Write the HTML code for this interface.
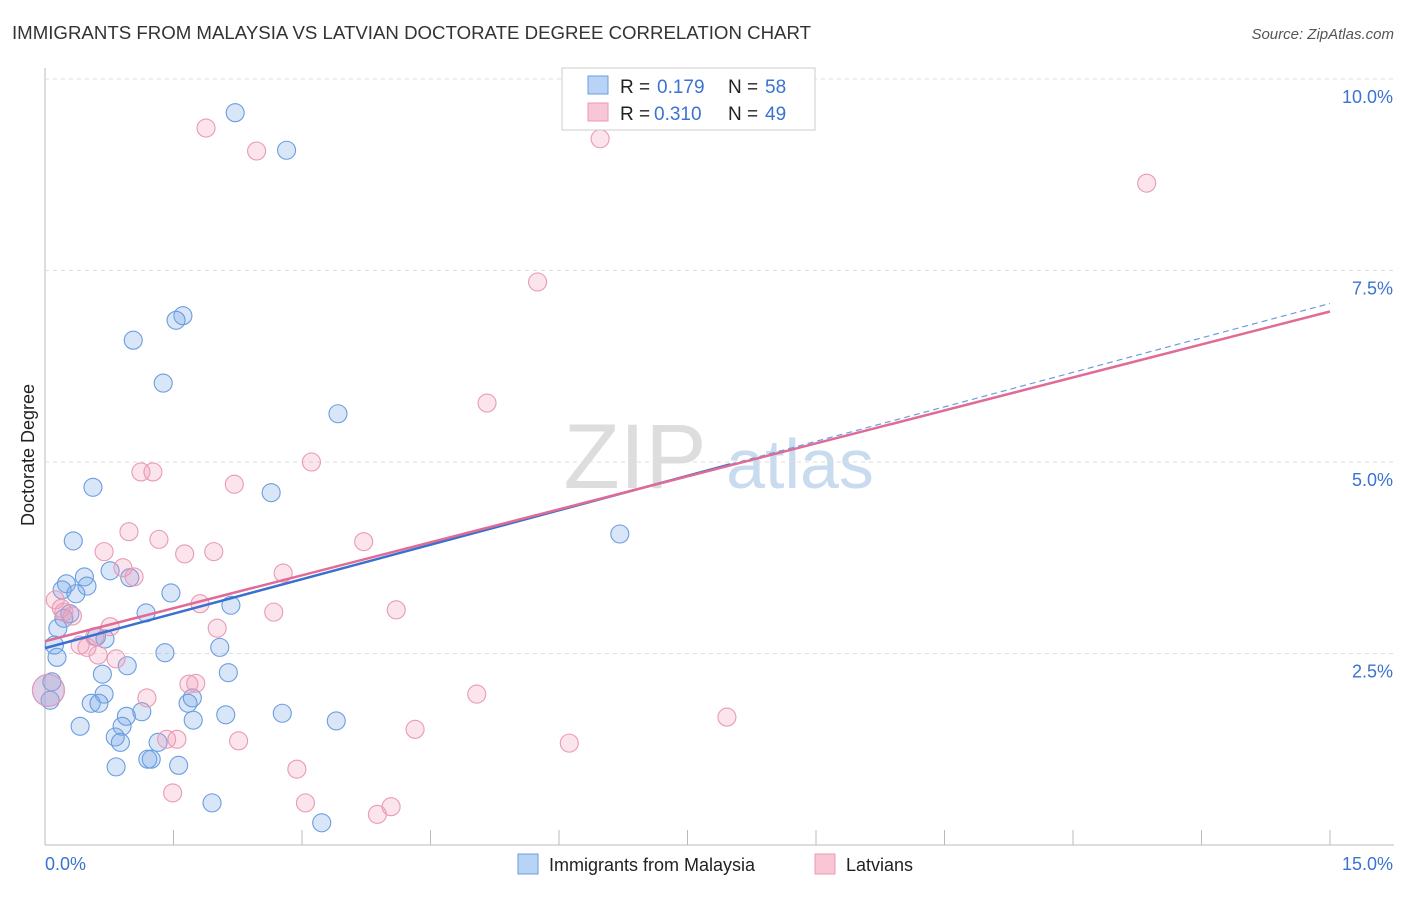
<!DOCTYPE html>
<html><head><meta charset="utf-8"><style>
body{margin:0;background:#fff;font-family:"Liberation Sans",sans-serif}
svg text{font-family:"Liberation Sans",sans-serif}
</style></head><body>
<svg id="c" width="1406" height="892" xmlns="http://www.w3.org/2000/svg">
<text x="12" y="39" font-size="18" fill="#333" textLength="799" lengthAdjust="spacingAndGlyphs">IMMIGRANTS FROM MALAYSIA VS LATVIAN DOCTORATE DEGREE CORRELATION CHART</text>
<text x="1394" y="39" font-size="15" fill="#555" font-style="italic" text-anchor="end">Source: ZipAtlas.com</text>
<text x="635" y="488" font-size="92" fill="#ddd" font-family="Liberation Serif" text-anchor="middle">ZIP</text>
<text x="800" y="488" font-size="70" fill="#c9dbef" text-anchor="middle">atlas</text>
<text transform="translate(34,455) rotate(-90)" font-size="18" fill="#222" text-anchor="middle">Doctorate Degree</text>
<g id="grid"></g><g id="pts"></g><g id="lines"></g>
<g>
<rect x="562" y="68" width="253" height="62" fill="#fff" stroke="#ccc"/>
<rect x="588" y="76" width="20" height="18" fill="#b8d3f5" stroke="#6a9de0"/>
<rect x="588" y="103" width="20" height="18" fill="#f9c6d6" stroke="#e99ab4"/>
<text x="620" y="93" font-size="19" fill="#222">R =</text>
<text x="657" y="93" font-size="19" fill="#3b73d1">0.179</text>
<text x="728" y="93" font-size="19" fill="#222">N =</text>
<text x="765" y="93" font-size="19" fill="#3b73d1">58</text>
<text x="620" y="120" font-size="19" fill="#222">R =</text>
<text x="654" y="120" font-size="19" fill="#3b73d1">0.310</text>
<text x="728" y="120" font-size="19" fill="#222">N =</text>
<text x="765" y="120" font-size="19" fill="#3b73d1">49</text>
</g>
<g>
<rect x="518" y="854" width="20" height="20" fill="#b8d3f5" stroke="#6a9de0"/>
<text x="549" y="871" font-size="18" fill="#222">Immigrants from Malaysia</text>
<rect x="815" y="854" width="20" height="20" fill="#f9c6d6" stroke="#e99ab4"/>
<text x="846" y="871" font-size="18" fill="#222">Latvians</text>
</g>
</svg>
<script>
const blueX=[2.22,2.82,1.61,1.53,1.03,1.38,3.42,0.56,2.64,6.71,0.33,0.76,0.46,0.49,0.25,0.20,0.36,0.99,1.47,1.18,2.17,0.29,0.22,0.15,0.70,0.60,0.11,0.14,2.04,1.40,0.96,0.67,2.14,0.08,0.06,0.69,0.54,0.63,1.67,1.72,1.73,2.77,3.40,2.11,0.95,1.13,0.90,0.41,0.82,0.88,1.32,1.20,1.24,1.56,0.83,1.95,3.23,0.04];
const blueY=[9.56,9.07,6.91,6.85,6.59,6.03,5.63,4.67,4.60,4.06,3.97,3.58,3.50,3.38,3.41,3.33,3.28,3.49,3.29,3.03,3.13,3.02,2.96,2.83,2.69,2.72,2.61,2.45,2.58,2.51,2.34,2.23,2.25,2.13,1.89,1.97,1.85,1.85,1.85,1.92,1.63,1.72,1.62,1.70,1.68,1.74,1.55,1.55,1.41,1.34,1.34,1.12,1.12,1.04,1.02,0.55,0.29,2.02];
const pinkX=[1.88,2.47,6.48,12.86,5.75,5.16,3.11,1.12,1.26,2.21,0.98,0.69,1.33,1.63,1.97,3.72,0.91,1.04,2.78,0.19,0.32,0.22,1.81,2.67,4.10,0.76,2.01,0.58,0.41,0.49,0.62,0.83,5.04,1.19,1.68,1.76,7.96,4.32,1.42,1.54,2.26,6.12,2.94,1.49,3.04,4.04,3.88,0.12,0.04];
const pinkY=[9.36,9.06,9.22,8.64,7.35,5.77,5.00,4.87,4.87,4.71,4.09,3.83,3.99,3.80,3.83,3.96,3.62,3.50,3.55,3.09,2.99,3.04,3.15,3.04,3.07,2.85,2.83,2.72,2.61,2.58,2.48,2.43,1.97,1.92,2.10,2.11,1.67,1.51,1.38,1.38,1.36,1.33,0.99,0.68,0.55,0.50,0.40,3.20,2.02];
const yTicks=[2.5,5.0,7.5,10.0];
const blueFit=[2.57,0.30], pinkFit=[2.66,0.287];
const NS="http://www.w3.org/2000/svg";
const X=v=>45+v/15*1285, Y=v=>845-v*76.6;
function mk(t,a,p){const e=document.createElementNS(NS,t);for(const k in a)e.setAttribute(k,a[k]);p.appendChild(e);return e;}
const g=document.getElementById('grid');
let ax=mk('line',{x1:45,y1:68,x2:45,y2:845,stroke:'#bbb'},g);


let bx=mk('line',{x1:45,y1:845,x2:1394,y2:845,stroke:'#bbb'},g);


for(let i=1;i<=10;i++){let t=mk('line',{x1:X(i*1.5),y1:830,x2:X(i*1.5),y2:845,stroke:'#bbb'},g);

}
yTicks.forEach(v=>{let l=mk('line',{x1:45,y1:Y(v),x2:1394,y2:Y(v),stroke:'#ddd','stroke-dasharray':'4,4'},g);


let t=mk('text',{x:1393,y:Y(v)+24,'font-size':18,fill:'#3b73d1','text-anchor':'end'},g);t.textContent=v.toFixed(1)+'%';

});
let x0=mk('text',{x:45,y:870,'font-size':18,fill:'#3b73d1'},g);x0.textContent='0.0%';


let x1=mk('text',{x:1393,y:870,'font-size':18,fill:'#3b73d1','text-anchor':'end'},g);x1.textContent='15.0%';


const p=document.getElementById('pts');
function pts(xs,ys,fill,stroke,name){xs.forEach((v,i)=>{const big=(i===xs.length-1&&v<0.05);
let c=mk('circle',{cx:X(v),cy:Y(ys[i]),r:big?16:9,fill:fill,stroke:stroke,'stroke-width':1.1},p);

});}
pts(blueX,blueY,'rgba(120,165,230,0.28)','#6a9de0','malaysia-point');
pts(pinkX,pinkY,'rgba(240,150,180,0.26)','#e99ab4','latvian-point');
const L=document.getElementById('lines');
let b1=mk('line',{x1:X(0),y1:Y(blueFit[0]),x2:X(8),y2:Y(blueFit[0]+blueFit[1]*8),stroke:'#3a70d0','stroke-width':2.5},L);


let b2=mk('line',{x1:X(8),y1:Y(blueFit[0]+blueFit[1]*8),x2:X(15),y2:Y(blueFit[0]+blueFit[1]*15),stroke:'#6a9de0','stroke-width':1.2,'stroke-dasharray':'6,4'},L);


let p1=mk('line',{x1:X(0),y1:Y(pinkFit[0]),x2:X(15),y2:Y(pinkFit[0]+pinkFit[1]*15),stroke:'#e06b95','stroke-width':2.5},L);


</script>
</body></html>
